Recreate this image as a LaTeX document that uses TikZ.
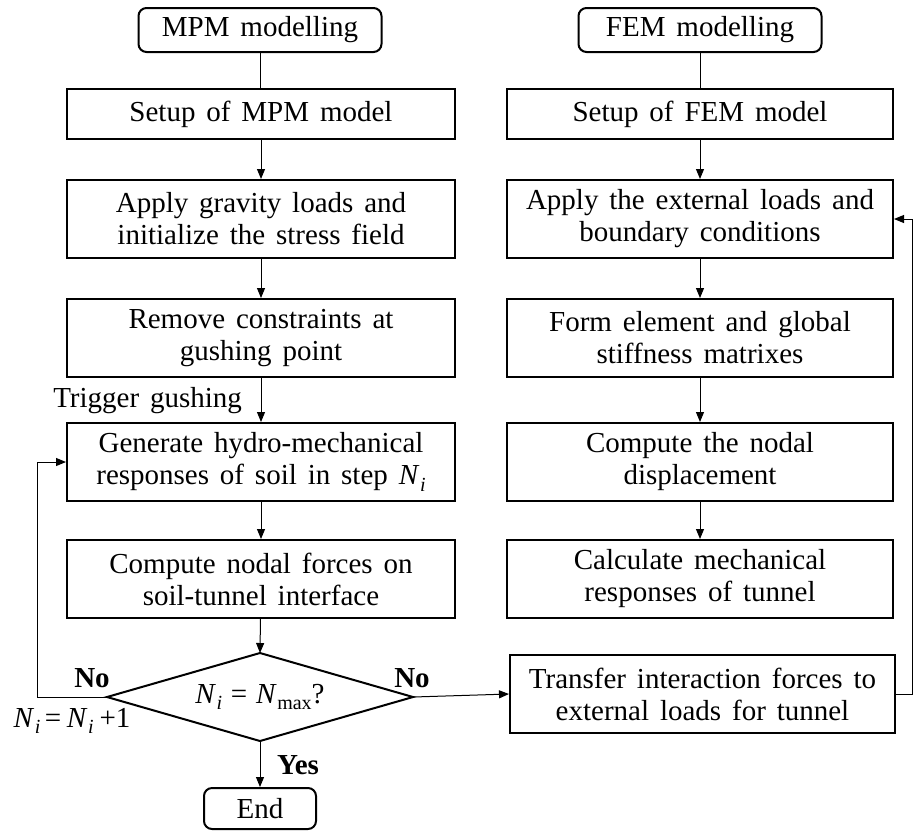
\documentclass[tikz,border=0pt]{standalone}
\usepackage{fontspec}
\setmainfont{Liberation Serif}[WordSpace={1.5}]
\usetikzlibrary{arrows.meta}

% italic N with a subscript, set in the text font
\newcommand{\Nsub}[1]{\textit{N}\kern0.02em\raisebox{-0.5ex}{\fontsize{10}{10}\selectfont #1}}

\begin{document}
\begin{tikzpicture}[x=0.5pt,y=-0.5pt,
  txt/.style={font=\fontsize{14.5}{16}\selectfont},
  box/.style={txt, draw, line width=1pt, align=center, inner sep=0pt,
    minimum height=39pt},
  lbox/.style={box, minimum width=194pt},
  rbox/.style={box, minimum width=193pt},
  head/.style={box, rounded corners=4pt, minimum width=121.5pt, minimum height=22pt},
  conn/.style={line width=0.5pt},
  arr/.style={conn, -{Triangle[length=5pt,width=4pt]}},
  lab/.style={font=\fontsize{14.5}{16}\selectfont\bfseries}
]
\useasboundingbox (0,0) rectangle (914,831);

% left column: MPM
\node[head] (h1) at (260,30) {MPM modelling};
\node[lbox, minimum height=25pt] (s1) at (261,114) {Setup of MPM model};
\node[lbox] (a1) at (261,219) {Apply gravity loads and\\initialize the stress field};
\node[lbox] (r1) at (261,338) {Remove constraints at\\gushing point};
\node[lbox] (g1) at (261,462) {Generate hydro-mechanical\\responses of soil in step \Nsub{\textit{i}}};
\node[lbox] (c1) at (261,579) {Compute nodal forces on\\soil-tunnel interface};

% decision
\node[txt] (dq) at (260,697) {\Nsub{\textit{i}}\kern0.3em=\kern0.3em\Nsub{max}?};
\coordinate (dt) at (260,653);
\coordinate (db) at (260,741);
\coordinate (dl) at (107,697);
\coordinate (dr) at (413,697);
\draw[line width=1pt, line join=miter] (dt) -- (dr) -- (db) -- (dl) -- cycle;

\node[head, minimum width=56pt, minimum height=20.5pt] (en) at (260,808.5) {End};

% right column: FEM
\node[head] (h2) at (700,30) {FEM modelling};
\node[rbox, minimum height=25pt] (s2) at (700,114) {Setup of FEM model};
\node[rbox] (a2) at (700,219) {Apply the external loads and\\boundary conditions};
\node[rbox] (f2) at (700,338) {Form element and global\\stiffness matrixes};
\node[rbox] (n2) at (700,462) {Compute the nodal\\displacement};
\node[rbox] (m2) at (700,579) {Calculate mechanical\\responses of tunnel};
\node[box, minimum width=192.5pt] (tr) at (702.5,694) {Transfer interaction forces to\\external loads for tunnel};

% labels
\node[txt, anchor=east] (tg) at (249,401) {Trigger gushing};
\node[lab] (no1) at (92,678) {No};
\node[lab] (no2) at (412,678) {No};
\node[lab] (yes) at (298,765) {Yes};
\node[txt] (inc) at (72,721) {\Nsub{\textit{i}}\kern0.15em=\kern0.2em\Nsub{\textit{i}}\kern0.2em+1};

% connectors, left column
\draw[conn] (h1) -- (h1 |- s1.north);
\draw[arr] (s1.south -| a1) -- (a1);
\draw[arr] (a1) -- (r1);
\draw[arr] (r1) -- (g1);
\draw[arr] (g1) -- (c1);
\draw[arr] (c1) -- (dt);
\draw[arr] (db) -- (en);

% loop back to the next step
\coordinate (fb) at (37,697);
\draw[arr] (dl) -- (fb) |- (g1.west);

% hand-over to the FEM side
\draw[arr] (dr) -- (tr.west);
\coordinate (rb) at (912,0);
\draw[arr] (tr.east) -- (tr.east -| rb) -- (rb |- a2.east) -- (a2.east);

% connectors, right column
\draw[conn] (h2) -- (h2 |- s2.north);
\draw[arr] (s2) -- (a2);
\draw[arr] (a2) -- (f2);
\draw[arr] (f2) -- (n2);
\draw[arr] (n2) -- (m2);
\end{tikzpicture}
\end{document}
